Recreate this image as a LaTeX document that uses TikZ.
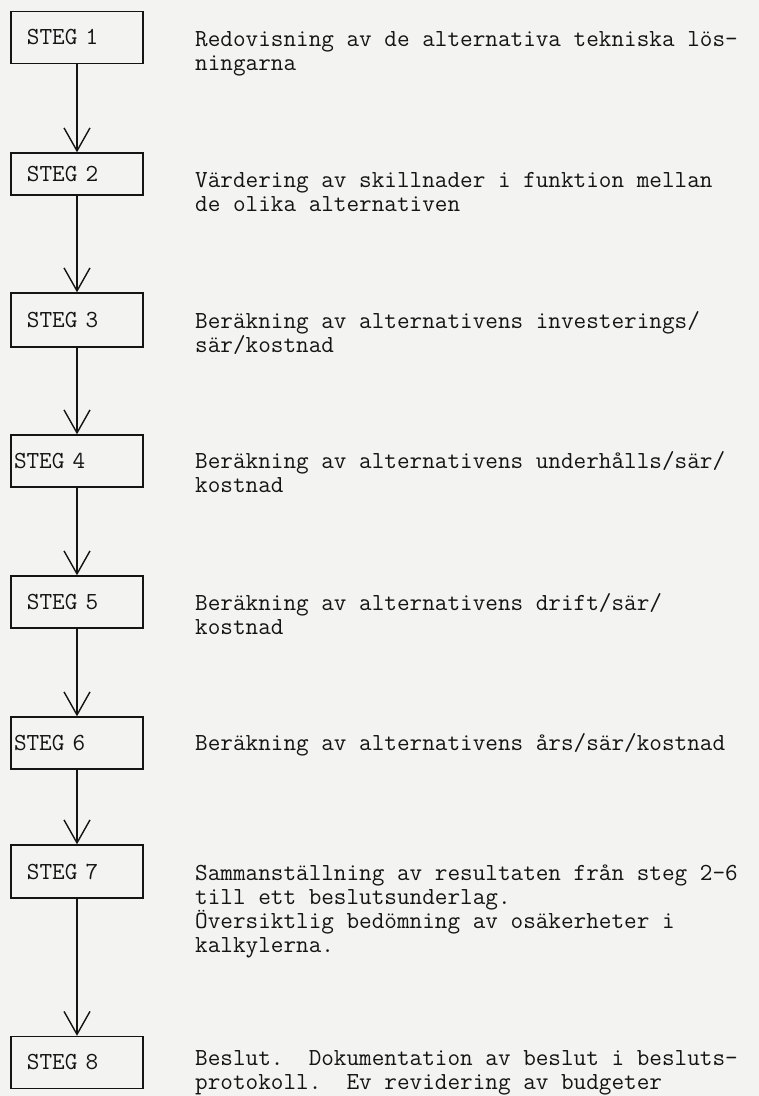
\documentclass[tikz,border=0pt]{standalone}
\usetikzlibrary{arrows.meta}
\definecolor{paper}{RGB}{243,243,241}
\definecolor{ink}{RGB}{20,20,20}

\begin{document}
\begin{tikzpicture}[x=1pt, y=-1pt,
  stegbox/.style={draw=ink, line width=1.4pt, rectangle, minimum height=52pt,
    text width=100pt, inner xsep=16pt, inner ysep=0pt, align=left,
    font=\fontsize{24.5}{24}\selectfont\ttfamily, text=ink},
  desc/.style={anchor=base west, align=left, inner sep=0pt,
    font=\fontsize{24.5}{24}\selectfont\ttfamily\frenchspacing, text=ink},
  flow/.style={draw=ink, line width=1.4pt,
    -{Straight Barb[length=23pt, width=26pt, line width=1.4pt]}}]

\fill[paper] (0,0) rectangle (759,1096);
\useasboundingbox (0,0) rectangle (759,1096);

\node[stegbox] (s1) at (77,37.5) {STEG 1};
\node[stegbox, minimum height=42pt] (s2) at (77,174) {STEG 2};
\node[stegbox, minimum height=54pt] (s3) at (77,320) {STEG 3};
\node[stegbox] (s4) at (77,461) {\hspace*{-13pt}STEG 4};
\node[stegbox] (s5) at (77,602) {STEG 5};
\node[stegbox] (s6) at (77,743) {\hspace*{-13pt}STEG 6};
\node[stegbox, minimum height=53pt] (s7) at (77,871.5) {STEG 7};
\node[stegbox] (s8) at (77,1062.5) {STEG 8};

% base west = baseline of the last line
\node[desc] (d1) at (195,70) {Redovisning av de alternativa tekniska lös-\\ningarna};
\node[desc] (d2) at (195,211) {Värdering av skillnader i funktion mellan\\de olika alternativen};
\node[desc] (d3) at (195,352) {Beräkning av alternativens investerings/\\sär/kostnad};
\node[desc] (d4) at (195,492) {Beräkning av alternativens underhålls/sär/\\kostnad};
\node[desc] (d5) at (195,634) {Beräkning av alternativens drift/sär/\\kostnad};
\node[desc] (d6) at (195,750) {Beräkning av alternativens års/sär/kostnad};
\node[desc] (d7) at (195,952) {Sammanställning av resultaten från steg 2-6\\till ett beslutsunderlag.\\Översiktlig bedömning av osäkerheter i\\kalkylerna.};
\node[desc] (d8) at (195,1089) {Beslut.\ \ Dokumentation av beslut i besluts-\\protokoll.\ \ Ev revidering av budgeter};

\draw[flow] (s1) -- (s2);
\draw[flow] (s2) -- (s3);
\draw[flow] (s3) -- (s4);
\draw[flow] (s4) -- (s5);
\draw[flow] (s5) -- (s6);
\draw[flow] (s6) -- (s7);
\draw[flow] (s7) -- (s8);
\end{tikzpicture}
\end{document}
